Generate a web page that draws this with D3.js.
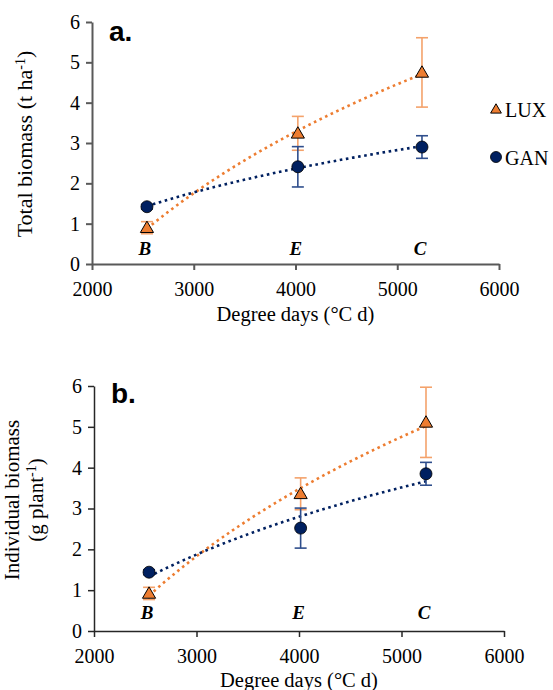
<!DOCTYPE html>
<html>
<head>
<meta charset="utf-8">
<script src="https://cdn.jsdelivr.net/npm/d3@7"></script>
<style>
  html, body { margin: 0; padding: 0; background: #fff; }
  svg { display: block; }
  text { font-family: "Liberation Serif", "Times New Roman", serif; }
</style>
</head>
<body>
<svg id="chart" width="553" height="690" font-family="Liberation Serif, serif"></svg>
<script>
// ---------------- data ----------------
const stageLabels = ["B", "E", "C"];
const series = ["LUX", "GAN"];
const xTicks = [2000, 3000, 4000, 5000, 6000];
const yTicks = [0, 1, 2, 3, 4, 5, 6];

// Panel a: Total biomass (t ha-1)
const aDegreeDays = [2540, 4023, 5243];
const aLUX = [0.90, 3.24, 4.75];
const aLUXerr = [0.15, 0.42, 0.86];
const aGAN = [1.42, 2.41, 2.90];
const aGANerr = [0.06, 0.50, 0.28];

// Panel b: Individual biomass (g plant-1)
const bDegreeDays = [2537, 4016, 5239];
const bLUX = [0.92, 3.36, 5.11];
const bLUXerr = [0.15, 0.39, 0.86];
const bGAN = [1.44, 2.52, 3.85];
const bGANerr = [0.06, 0.49, 0.28];

// ---------------- styles ----------------
const SERIF = '"Liberation Serif", "Times New Roman", serif';
const colors = {
  LUX: { fill: "#ED7D31", line: "#ED7D31", err: "#F4A26B" },
  GAN: { fill: "#002060", line: "#002060", err: "#2F4E8C" }
};

const svg = d3.select("#chart");

function logFit(xs, ys) {
  const lx = xs.map(Math.log);
  const mx = d3.mean(lx), my = d3.mean(ys);
  let sxy = 0, sxx = 0;
  lx.forEach((v, i) => { sxy += (v - mx) * (ys[i] - my); sxx += (v - mx) * (v - mx); });
  const slope = sxy / sxx;
  const icpt = my - slope * mx;
  return x => icpt + slope * Math.log(x);
}

function panel(cfg) {
  const g = svg.append("g");
  const x = d3.scaleLinear().domain([2000, 6000]).range(cfg.xRange);
  const y = d3.scaleLinear().domain([0, 6]).range(cfg.yRange);

  // axes
  const xAxis = d3.axisBottom(x).tickValues(xTicks).tickSize(6).tickSizeOuter(0).tickFormat(d3.format("d"));
  const yAxis = d3.axisLeft(y).tickValues(yTicks).tickSize(6).tickSizeOuter(0).tickFormat(d3.format("d"));
  const gx = g.append("g").attr("transform", `translate(0,${cfg.yRange[0]})`).call(xAxis);
  const gy = g.append("g").attr("transform", `translate(${cfg.xRange[0]},0)`).call(yAxis);
  [gx, gy].forEach(ax => {
    ax.attr("font-family", SERIF).attr("font-size", 20);
    ax.select(".domain").attr("stroke", cfg.axisColor).attr("stroke-width", cfg.axisWidth);
    ax.selectAll(".tick line").attr("stroke", cfg.axisColor).attr("stroke-width", cfg.axisWidth);
    ax.selectAll(".tick text").attr("fill", "#000")
      .style("font-family", SERIF).style("font-size", "20px");
  });
  gx.selectAll(".tick text").attr("y", 18);
  gy.selectAll(".tick text").attr("x", -12);

  // panel letter
  g.append("text").attr("x", cfg.xRange[0] + 17).attr("y", cfg.yRange[1] + cfg.letterDy)
    .style("font-family", '"Liberation Sans", Arial, sans-serif')
    .style("font-weight", "bold").style("font-size", "28px").text(cfg.letter);

  // stage labels
  g.selectAll("text.stage").data(stageLabels).join("text").attr("class", "stage")
    .attr("x", (d, i) => x(cfg.dd[i]) - 2)
    .attr("y", cfg.yRange[0] - cfg.stageDy)
    .attr("text-anchor", "middle")
    .style("font-family", SERIF)
    .style("font-weight", "bold").style("font-style", "italic").style("font-size", "19px")
    .text(d => d);

  const data = { LUX: { v: cfg.lux, e: cfg.luxErr }, GAN: { v: cfg.gan, e: cfg.ganErr } };

  // trendlines (log fit of each series)
  series.forEach(s => {
    const f = logFit(cfg.dd, data[s].v);
    const xs = d3.range(0, 41).map(k => cfg.dd[0] + (cfg.dd[2] - cfg.dd[0]) * k / 40);
    g.append("path")
      .attr("d", d3.line().x(d => x(d)).y(d => y(f(d)))(xs))
      .attr("fill", "none").attr("stroke", colors[s].line)
      .attr("stroke-width", 2.6).attr("stroke-dasharray", "2.6,3.6");
  });

  // error bars
  series.forEach(s => {
    const eg = g.append("g");
    cfg.dd.forEach((d, i) => {
      const v = data[s].v[i], e = data[s].e[i];
      const cx = x(d);
      eg.append("line").attr("x1", cx).attr("x2", cx).attr("y1", y(v - e)).attr("y2", y(v + e))
        .attr("stroke", colors[s].err).attr("stroke-width", 1.6);
      [v - e, v + e].forEach(t => {
        eg.append("line").attr("x1", cx - 6).attr("x2", cx + 6).attr("y1", y(t)).attr("y2", y(t))
          .attr("stroke", colors[s].err).attr("stroke-width", 1.6);
      });
    });
  });
  // markers
  series.forEach(s => {
    cfg.dd.forEach((d, i) => {
      const v = data[s].v[i];
      if (s === "LUX") {
        g.append("path")
          .attr("d", d3.symbol().type(d3.symbolTriangle).size(75)())
          .attr("transform", `translate(${x(d)},${y(v) + 1})`)
          .attr("fill", colors[s].fill).attr("stroke", "#000").attr("stroke-width", 1);
      } else {
        g.append("circle").attr("cx", x(d)).attr("cy", y(v)).attr("r", 6)
          .attr("fill", colors[s].fill).attr("stroke", "#000").attr("stroke-width", 0.8);
      }
    });
  });

  // x axis title
  g.append("text").attr("x", (cfg.xRange[0] + cfg.xRange[1]) / 2).attr("y", cfg.yRange[0] + cfg.xTitleDy)
    .attr("text-anchor", "middle").style("font-family", SERIF).style("font-size", "20.5px")
    .text("Degree days (°C d)");
  return g;
}

panel({
  xRange: [92, 499], yRange: [264, 22], axisColor: "#595959", axisWidth: 2,
  letter: "a.", letterDy: 19, stageDy: 9, xTitleDy: 57,
  dd: aDegreeDays, lux: aLUX, luxErr: aLUXerr, gan: aGAN, ganErr: aGANerr
});
panel({
  xRange: [94, 504], yRange: [631, 386], axisColor: "#262626", axisWidth: 1.5,
  letter: "b.", letterDy: 17, stageDy: 12, xTitleDy: 56,
  dd: bDegreeDays, lux: bLUX, luxErr: bLUXerr, gan: bGAN, ganErr: bGANerr
});

// y axis titles
const ya = svg.append("text").attr("transform", "translate(32,144) rotate(-90)")
  .attr("text-anchor", "middle").style("font-family", SERIF).style("font-size", "22px");
ya.append("tspan").text("Total biomass (t ha");
ya.append("tspan").attr("baseline-shift", "super").style("font-size", "14px").text("-1");
ya.append("tspan").text(")");

const yb = svg.append("g").attr("transform", "translate(0,500) rotate(-90)");
yb.append("text").attr("x", 0).attr("y", 19).attr("text-anchor", "middle")
  .style("font-family", SERIF).style("font-size", "21px")
  .text("Individual biomass");
const yb2 = yb.append("text").attr("x", 0).attr("y", 43).attr("text-anchor", "middle")
  .style("font-family", SERIF).style("font-size", "21px");
yb2.append("tspan").text("(g plant");
yb2.append("tspan").attr("baseline-shift", "super").style("font-size", "14px").text("-1");
yb2.append("tspan").text(")");

// legend (panel a)
const legend = svg.append("g");
series.forEach((s, i) => {
  const ly = 110 + i * 48;
  if (s === "LUX") {
    legend.append("path").attr("d", d3.symbol().type(d3.symbolTriangle).size(50)())
      .attr("transform", `translate(496,${ly})`)
      .attr("fill", colors[s].fill).attr("stroke", "#000").attr("stroke-width", 1);
  } else {
    legend.append("circle").attr("cx", 496).attr("cy", ly - 1).attr("r", 5.5)
      .attr("fill", colors[s].fill).attr("stroke", "#000").attr("stroke-width", 0.8);
  }
  legend.append("text").attr("x", 505).attr("y", ly + 7)
    .style("font-family", SERIF).style("font-size", "20px").text(s);
});
</script>
</body>
</html>
